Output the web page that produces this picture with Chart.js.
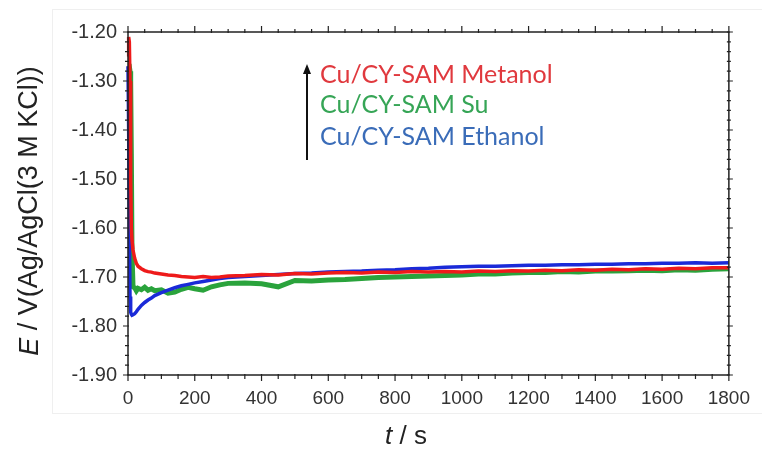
<!DOCTYPE html>
<html>
<head>
<meta charset="utf-8">
<script src="https://cdn.jsdelivr.net/npm/chart.js@4/dist/chart.umd.min.js"></script>
<style>
  html, body { margin: 0; padding: 0; background: #fff; }
  #wrap { width: 762px; height: 452px; }
</style>
</head>
<body>
<div id="wrap"><canvas id="chart" width="762" height="452"></canvas></div>
<script>
// time points (s)
const times = [0, 2, 4, 6, 8, 10, 12, 15, 20, 25, 30, 40, 50, 60, 70, 80, 100, 120, 140, 160,
  180, 200, 225, 250, 275, 300, 350, 400, 450, 500, 550, 600, 650, 700, 750, 800, 850, 900, 950,
  1000, 1050, 1100, 1150, 1200, 1250, 1300, 1350, 1400, 1450, 1500, 1550, 1600, 1650, 1700, 1750, 1800];

// E / V vs Ag/AgCl
const metanol = [-1.25, -1.21, -1.22, -1.30, -1.50, -1.60, -1.625, -1.645, -1.662, -1.672, -1.678, -1.683, -1.687, -1.689, -1.690, -1.692, -1.694, -1.696, -1.697, -1.699,
  -1.700, -1.701, -1.699, -1.701, -1.700, -1.698, -1.697, -1.695, -1.696, -1.693, -1.694, -1.692, -1.691, -1.692, -1.690, -1.691, -1.689, -1.690, -1.689,
  -1.690, -1.688, -1.689, -1.687, -1.688, -1.686, -1.687, -1.685, -1.686, -1.684, -1.685, -1.683, -1.684, -1.682, -1.683, -1.681, -1.681];
const su = [-1.27, -1.27, -1.27, -1.28, -1.30, -1.45, -1.65, -1.72, -1.722, -1.728, -1.723, -1.726, -1.721, -1.727, -1.724, -1.728, -1.726, -1.733, -1.731, -1.725,
  -1.721, -1.724, -1.727, -1.72, -1.716, -1.713, -1.712, -1.714, -1.72, -1.707, -1.708, -1.706, -1.705, -1.703, -1.701, -1.700, -1.699, -1.698, -1.697,
  -1.696, -1.694, -1.694, -1.692, -1.691, -1.691, -1.689, -1.690, -1.688, -1.688, -1.687, -1.686, -1.687, -1.685, -1.686, -1.684, -1.683];
const ethanol = [-1.27, -1.40, -1.60, -1.74, -1.772, -1.776, -1.778, -1.777, -1.775, -1.771, -1.766, -1.758, -1.752, -1.747, -1.743, -1.738, -1.732, -1.727, -1.722, -1.718,
  -1.715, -1.712, -1.709, -1.706, -1.703, -1.701, -1.699, -1.697, -1.695, -1.693, -1.692, -1.690, -1.689, -1.688, -1.686, -1.685, -1.683, -1.682, -1.680,
  -1.679, -1.678, -1.678, -1.677, -1.676, -1.676, -1.675, -1.675, -1.674, -1.674, -1.673, -1.673, -1.672, -1.672, -1.671, -1.672, -1.671];

const seriesNames = ['Cu/CY-SAM Metanol', 'Cu/CY-SAM Su', 'Cu/CY-SAM Ethanol'];
const lineColors = ['#ee1a1a', '#2aa33c', '#1a2ad8'];
const textColors = ['#e0393e', '#36a556', '#3a6cb8'];

const xTicks = [0, 200, 400, 600, 800, 1000, 1200, 1400, 1600, 1800];
const yTicks = [-1.90, -1.80, -1.70, -1.60, -1.50, -1.40, -1.30, -1.20];

function toPoints(values) {
  return times.map((t, i) => ({ x: t, y: values[i] }));
}

// frame, tick marks, axis titles, annotation
const decor = {
  id: 'decor',
  beforeDraw(chart) {
    const ctx = chart.ctx;
    ctx.save();
    ctx.strokeStyle = '#efefef';
    ctx.lineWidth = 1;
    ctx.strokeRect(52.5, 9.5, 720, 404);
    ctx.restore();
  },
  afterDatasetsDraw(chart) {
    const { ctx, chartArea: a, scales } = chart;
    const xs = scales.x, ys = scales.y;
    ctx.save();
    ctx.strokeStyle = '#222';
    ctx.lineWidth = 1.5;
    ctx.strokeRect(a.left, a.top, a.right - a.left, a.bottom - a.top);

    ctx.lineWidth = 1.2;
    ctx.beginPath();
    for (let v = 0; v <= 1800; v += 50) {
      const px = xs.getPixelForValue(v);
      const major = v % 200 === 0;
      ctx.moveTo(px, a.bottom - 1);
      ctx.lineTo(px, a.bottom + (major ? 6 : 4));
      ctx.moveTo(px, a.top + 1);
      ctx.lineTo(px, a.top - (major ? 6 : 3));
    }
    for (let k = 0; k <= 35; k++) {
      const v = -1.90 + k * 0.02;
      const py = ys.getPixelForValue(v);
      const major = k % 5 === 0;
      ctx.moveTo(a.left + 1, py);
      ctx.lineTo(a.left - (major ? 5 : 3), py);
      ctx.moveTo(a.right - 2, py);
      ctx.lineTo(a.right + (major ? 4 : 2), py);
    }
    ctx.stroke();

    // axis titles
    ctx.fillStyle = '#222';
    ctx.textBaseline = 'middle';
    const tx = 406, ty = 437;
    ctx.font = 'italic 26px "Liberation Sans"';
    const wT = ctx.measureText('t').width;
    ctx.font = '26px "Liberation Sans"';
    const wRest = ctx.measureText(' / s').width;
    let x0 = tx - (wT + wRest) / 2;
    ctx.textAlign = 'left';
    ctx.font = 'italic 26px "Liberation Sans"';
    ctx.fillText('t', x0, ty);
    ctx.font = '26px "Liberation Sans"';
    ctx.fillText(' / s', x0 + wT, ty);

    ctx.save();
    ctx.translate(30, 211);
    ctx.rotate(-Math.PI / 2);
    ctx.font = 'italic 27px "Liberation Sans"';
    const wE = ctx.measureText('E').width;
    ctx.font = '27px "Liberation Sans"';
    const rest = ' / V(Ag/AgCl(3 M KCl))';
    const wR = ctx.measureText(rest).width;
    x0 = -(wE + wR) / 2;
    ctx.font = 'italic 27px "Liberation Sans"';
    ctx.fillText('E', x0, 0);
    ctx.font = '27px "Liberation Sans"';
    ctx.fillText(rest, x0 + wE, 0);
    ctx.restore();

    // annotation text and arrow
    ctx.font = '25px Lato';
    ctx.textAlign = 'left';
    const rows = [75, 105, 137];
    seriesNames.forEach((name, i) => {
      ctx.fillStyle = textColors[i];
      ctx.fillText(name, 320, rows[i]);
    });
    ctx.strokeStyle = '#111';
    ctx.fillStyle = '#111';
    ctx.lineWidth = 2;
    ctx.beginPath();
    ctx.moveTo(307, 160);
    ctx.lineTo(307, 72);
    ctx.stroke();
    ctx.beginPath();
    ctx.moveTo(307, 64);
    ctx.lineTo(303, 74);
    ctx.lineTo(311, 74);
    ctx.closePath();
    ctx.fill();
    ctx.restore();
  }
};

new Chart(document.getElementById('chart'), {
  type: 'scatter',
  data: {
    datasets: [
      { label: seriesNames[0], data: toPoints(metanol), borderColor: lineColors[0], borderWidth: 3.5, order: 1 },
      { label: seriesNames[2], data: toPoints(ethanol), borderColor: lineColors[2], borderWidth: 3.5, order: 2 },
      { label: seriesNames[1], data: toPoints(su), borderColor: lineColors[1], borderWidth: 5, order: 3 }
    ].map(d => Object.assign(d, { showLine: true, pointRadius: 0, tension: 0, fill: false, clip: 6 }))
  },
  options: {
    responsive: false,
    animation: false,
    layout: { padding: { top: 32, right: 26, left: 0, bottom: 0 } },
    plugins: { legend: { display: false }, tooltip: { enabled: false } },
    scales: {
      x: {
        type: 'linear', min: 0, max: 1800,
        afterFit: s => { s.height = 77; },
        afterBuildTicks: s => { s.ticks = xTicks.map(v => ({ value: v })); },
        grid: { display: false, drawTicks: false },
        border: { display: false },
        ticks: { padding: 12, color: '#333', font: { family: 'Liberation Sans', size: 19 },
          callback: v => String(v) }
      },
      y: {
        type: 'linear', min: -1.90, max: -1.20,
        afterFit: s => { s.width = 128; },
        afterBuildTicks: s => { s.ticks = yTicks.map(v => ({ value: v })); },
        grid: { display: false, drawTicks: false },
        border: { display: false },
        ticks: { padding: 11, color: '#333', font: { family: 'Liberation Sans', size: 20 },
          callback: v => v.toFixed(2) }
      }
    }
  },
  plugins: [decor]
});
</script>
</body>
</html>
